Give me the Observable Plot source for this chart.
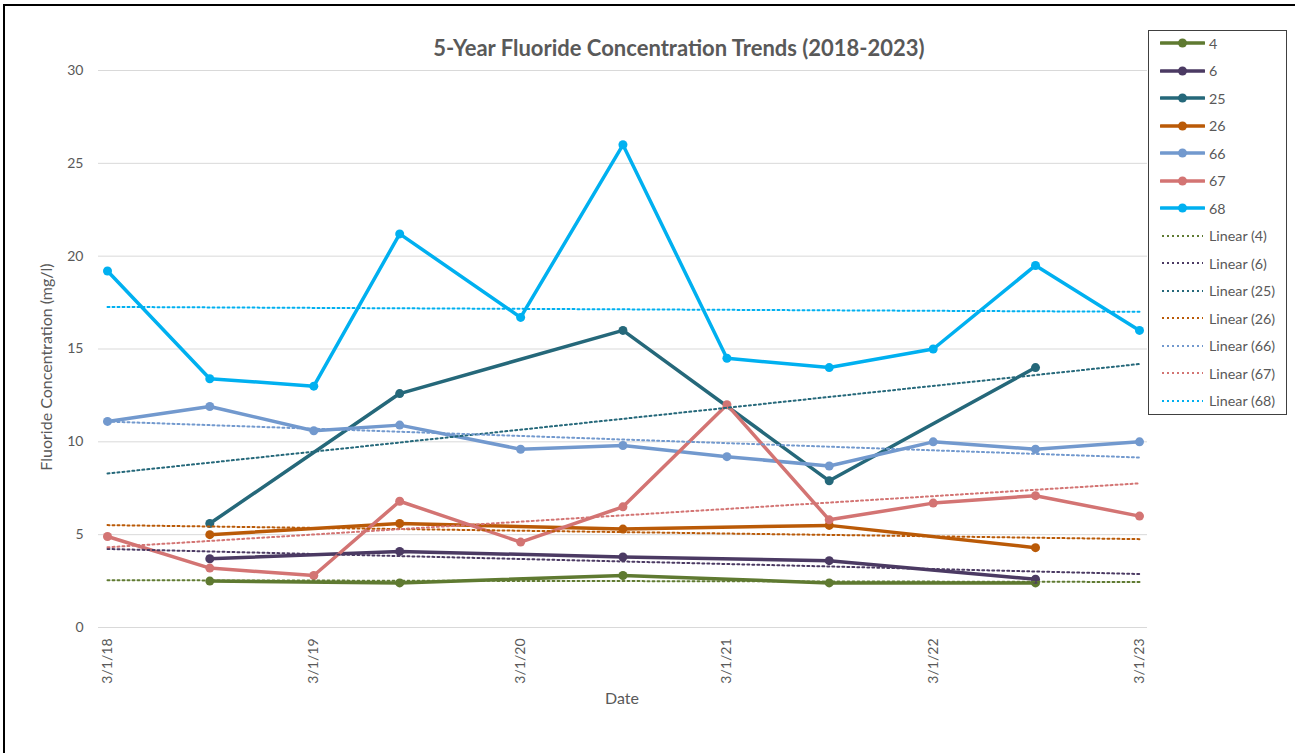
<!DOCTYPE html>
<html>
<head>
<meta charset="utf-8">
<script src="https://cdn.jsdelivr.net/npm/d3@7"></script>
<script src="https://cdn.jsdelivr.net/npm/@observablehq/plot@0.6"></script>
<style>
  html, body { margin: 0; padding: 0; background: #fff; }
  #wrap { position: relative; width: 1295px; height: 753px; overflow: hidden; font-family: Lato, "Open Sans", sans-serif; color: #595959; }
  #frame { position: absolute; left: 3px; top: 4px; right: -10px; bottom: -10px; border-top: 2px solid #000; border-left: 2px solid #000; pointer-events: none; }
  #chart { position: absolute; left: 0; top: 0; }
  #title { position: absolute; left: 0; width: 1358px; top: 34px; text-align: center; font-size: 22px; font-weight: bold; color: #595959; }
  #ylabel { position: absolute; left: 45px; top: 367px; transform: translate(-50%, -50%) rotate(-90deg); white-space: nowrap; font-size: 16px; }
  #xlabel { position: absolute; left: 622px; top: 697px; transform: translate(-50%, -50%); font-size: 16px; }
  #legend { position: absolute; left: 1148px; top: 30px; width: 139px; height: 385px; border: 1px solid #404040; box-sizing: border-box; }
  .item { position: absolute; left: 11px; height: 20px; display: flex; align-items: center; font-size: 14.3px; white-space: nowrap; }
  .item svg { margin-right: 4px; }
</style>
</head>
<body>
<div id="wrap">
  <div id="chart"></div>
  <div id="title">5-Year Fluoride Concentration Trends (2018-2023)</div>
  <div id="ylabel">Fluoride Concentration (mg/l)</div>
  <div id="xlabel">Date</div>
  <div id="legend"></div>
  <div id="frame"></div>
</div>
<script>
// ---- data ----
const dates = ["2018-03-01","2018-08-29","2019-03-01","2019-07-31","2020-03-01","2020-08-29","2021-03-01","2021-08-29","2022-03-01","2022-08-29","2023-03-01"];
const seriesNames = ["4", "6", "25", "26", "66", "67", "68"];
const s4  = [null, 2.5, null, 2.4, null, 2.8, null, 2.4, null, 2.4, null];
const s6  = [null, 3.7, null, 4.1, null, 3.8, null, 3.6, null, 2.6, null];
const s25 = [null, 5.6, null, 12.6, null, 16.0, null, 7.9, null, 14.0, null];
const s26 = [null, 5.0, null, 5.6, null, 5.3, null, 5.5, null, 4.3, null];
const s66 = [11.1, 11.9, 10.6, 10.9, 9.6, 9.8, 9.2, 8.7, 10.0, 9.6, 10.0];
const s67 = [4.9, 3.2, 2.8, 6.8, 4.6, 6.5, 12.0, 5.8, 6.7, 7.1, 6.0];
const s68 = [19.2, 13.4, 13.0, 21.2, 16.7, 26.0, 14.5, 14.0, 15.0, 19.5, 16.0];
const seriesColors = ["#5F7A31", "#4B3A63", "#25687A", "#BA5A07", "#7299CE", "#D37473", "#00B0F0"];
const xTickDates = ["2018-03-01","2019-03-01","2020-03-01","2021-03-01","2022-03-01","2023-03-01"];
const yTicks = [0, 5, 10, 15, 20, 25, 30];
const xDomain = ["2018-03-01", "2023-03-01"];

// ---- build ----
const allValues = [s4, s6, s25, s26, s66, s67, s68];
const parse = d3.utcParse("%Y-%m-%d");
const fmt = d3.utcFormat("%-m/%-d/%y");
const d0 = parse(xDomain[0]), d1 = parse(xDomain[1]);

const seriesRows = seriesNames.map((name, k) =>
  allValues[k].map((v, i) => ({date: parse(dates[i]), value: v, series: name})).filter(r => r.value != null)
);

// least-squares linear trend (as Excel "Linear" trendline) from each series' own points
function trend(rows, name) {
  const xs = rows.map(r => +r.date), ys = rows.map(r => r.value);
  const mx = d3.mean(xs), my = d3.mean(ys);
  const sxy = d3.sum(xs, (x, i) => (x - mx) * (ys[i] - my));
  const sxx = d3.sum(xs, x => (x - mx) ** 2);
  const b = sxy / sxx, a = my - b * mx;
  return [d0, d1].map(d => ({date: d, value: a + b * (+d), series: name}));
}
const trendRows = seriesRows.map((rows, k) => trend(rows, seriesNames[k]));

const marks = [
  Plot.ruleY(yTicks, {stroke: "#d9d9d9", strokeWidth: 1})
];
seriesRows.forEach((rows, k) => {
  marks.push(Plot.line(rows, {x: "date", y: "value", stroke: seriesColors[k], strokeWidth: 3.5, strokeLinejoin: "round", strokeLinecap: "round"}));
  marks.push(Plot.dot(rows, {x: "date", y: "value", fill: seriesColors[k], r: 4.5, stroke: null}));
});
trendRows.forEach((rows, k) => {
  marks.push(Plot.line(rows, {x: "date", y: "value", stroke: seriesColors[k], strokeWidth: 2, strokeDasharray: "2 3"}));
});
marks.push(Plot.axisY({ticks: yTicks, tickSize: 0, tickPadding: 15, label: null, fontSize: 14, fill: "#595959"}));
marks.push(Plot.axisX({ticks: xTickDates.map(parse), tickFormat: fmt, tickRotate: -90, tickSize: 0, tickPadding: 11, label: null, fontSize: 14, fill: "#595959"}));

const chart = Plot.plot({
  width: 1295,
  height: 753,
  marginLeft: 98,
  marginRight: 148,
  marginTop: 70,
  marginBottom: 126,
  style: {fontFamily: "Lato, 'Open Sans', sans-serif", background: "transparent", color: "#595959"},
  x: {type: "utc", domain: [d0, d1], insetLeft: 9, insetRight: 8},
  y: {domain: [0, 30]},
  marks
});
document.getElementById("chart").appendChild(chart);

// ---- legend ----
const legend = document.getElementById("legend");
const legendLabels = seriesNames.concat(seriesNames.map(n => `Linear (${n})`));
legendLabels.forEach((label, j) => {
  const k = j % seriesNames.length;
  const isTrend = j >= seriesNames.length;
  const item = document.createElement("div");
  item.className = "item";
  item.style.top = (2 + j * 27.5) + "px";
  const sw = isTrend
    ? `<svg width="45" height="20"><line x1="2" x2="43" y1="10" y2="10" stroke="${seriesColors[k]}" stroke-width="2" stroke-dasharray="2 3"/></svg>`
    : `<svg width="45" height="20"><line x1="1" x2="44" y1="10" y2="10" stroke="${seriesColors[k]}" stroke-width="3.5" stroke-linecap="round"/><circle cx="22.5" cy="10" r="4.5" fill="${seriesColors[k]}"/></svg>`;
  item.innerHTML = sw + `<span>${label}</span>`;
  legend.appendChild(item);
});
</script>
</body>
</html>
